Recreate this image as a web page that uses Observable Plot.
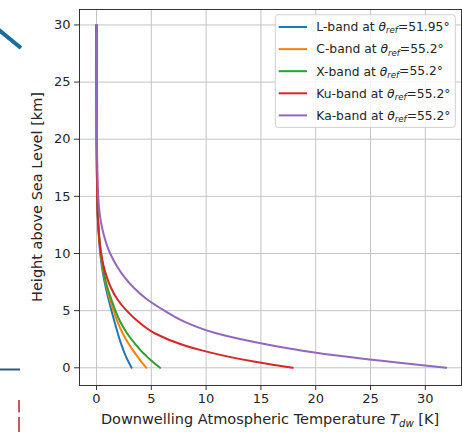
<!DOCTYPE html>
<html><head><meta charset="utf-8">
<script src="https://cdn.jsdelivr.net/npm/d3@7"></script>
<script src="https://cdn.jsdelivr.net/npm/@observablehq/plot@0.6"></script>
<style>
body{margin:0;background:#fff;}
#wrap{position:relative;width:462px;height:432px;overflow:hidden;background:#fff;}
#deco{position:absolute;left:0;top:0;pointer-events:none;}
</style></head>
<body><div id="wrap"></div>
<script>
// heights above sea level [km]
const heights = [0, 0.5, 1, 1.5, 2, 3, 4, 5, 6, 7, 8, 9, 10, 12, 15, 20, 25, 30];
const bandNames = ["L-band", "C-band", "X-band", "Ku-band", "Ka-band"];
const refAngles = ["51.95", "55.2", "55.2", "55.2", "55.2"];
// downwelling atmospheric temperature [K] at each height
const tempL  = [3.2, 2.93, 2.68, 2.47, 2.28, 1.95, 1.65, 1.37, 1.1, 0.85, 0.64, 0.47, 0.34, 0.18, 0.06, 0.015, 0.005, 0];
const tempC  = [4.55, 4.12, 3.72, 3.35, 3.0, 2.4, 1.93, 1.55, 1.22, 0.94, 0.71, 0.52, 0.38, 0.2, 0.07, 0.015, 0.005, 0];
const tempX  = [5.8, 5.15, 4.58, 4.05, 3.6, 2.8, 2.18, 1.72, 1.35, 1.0, 0.74, 0.56, 0.41, 0.21, 0.07, 0.015, 0.005, 0];
const tempKu = [17.9, 14.6, 11.9, 9.7, 7.9, 5.35, 3.85, 2.75, 1.9, 1.32, 0.92, 0.63, 0.42, 0.19, 0.06, 0.015, 0.005, 0];
const tempKa = [31.9, 27.0, 22.5, 18.8, 15.8, 11.0, 8.1, 6.2, 4.6, 3.4, 2.5, 1.8, 1.25, 0.57, 0.16, 0.04, 0.015, 0.005];
const seriesColors = ["#1f77b4", "#ff7f0e", "#2ca02c", "#d62728", "#9467bd"];
const xTicks = [0, 5, 10, 15, 20, 25, 30];
const yTicks = [0, 5, 10, 15, 20, 25, 30];

const temps = [tempL, tempC, tempX, tempKu, tempKa];
const rows = [];
bandNames.forEach((b, i) => heights.forEach((h, j) => rows.push({band: b, h: h, T: temps[i][j]})));

const textColor = "#262626";
const chart = Plot.plot({
  width: 462, height: 432,
  marginLeft: 79, marginRight: 1, marginTop: 9, marginBottom: 47,
  style: {fontFamily: "DejaVu Sans", fontSize: "13px", color: textColor, background: "#fff", overflow: "visible"},
  x: {domain: [-1.55, 33.3]},
  y: {domain: [-1.55, 31.35]},
  color: {domain: bandNames, range: seriesColors},
  marks: [
    Plot.gridX(xTicks, {stroke: "#c4c4c4", strokeOpacity: 1, strokeWidth: 1}),
    Plot.gridY(yTicks, {stroke: "#c4c4c4", strokeOpacity: 1, strokeWidth: 1}),
    Plot.axisX(xTicks, {tickSize: 5, tickPadding: 3, label: null, stroke: "#333", fontSize: 13}),
    Plot.axisY(yTicks, {tickSize: 5, tickPadding: 4, label: null, stroke: "#333", fontSize: 13}),
    Plot.line(rows, {x: "T", y: "h", z: "band", stroke: "band", strokeWidth: 2, curve: "monotone-y"}),
    Plot.frame({stroke: "#333", strokeWidth: 1})
  ]
});
document.getElementById("wrap").appendChild(chart);

const svg = d3.select(chart);
const xr = chart.scale("x").range, yr = chart.scale("y").range;
const xMid = (xr[0] + xr[1]) / 2, yMid = (yr[0] + yr[1]) / 2;

// x axis label
const xl = svg.append("text").attr("x", xMid).attr("y", 424).attr("text-anchor", "middle")
  .attr("font-size", 14.5).attr("fill", textColor);
xl.append("tspan").text("Downwelling Atmospheric Temperature ");
xl.append("tspan").attr("font-style", "italic").text("T");
xl.append("tspan").attr("font-style", "italic").attr("font-size", "0.7em").attr("dy", "0.25em").text("dw");
xl.append("tspan").attr("dy", "-0.18em").text(" [K]");

// y axis label
svg.append("text").attr("transform", `translate(42,${yMid}) rotate(-90)`).attr("text-anchor", "middle")
  .attr("font-size", 14.5).attr("fill", textColor).text("Height above Sea Level [km]");

// legend
const lg = svg.append("g").attr("text-anchor", "start");
const lgX = xr[1] - 185.7, lgY = yr[1] + 5.7;
lg.append("rect").attr("x", lgX).attr("y", lgY).attr("width", 180).attr("height", 112.7)
  .attr("rx", 3).attr("fill", "#fff").attr("fill-opacity", 0.85).attr("stroke", "#d0d0d0");
bandNames.forEach((b, i) => {
  const cy = lgY + 12.3 + i * 22.1;
  lg.append("line").attr("x1", lgX + 3.4).attr("x2", lgX + 31.7).attr("y1", cy).attr("y2", cy)
    .attr("stroke", seriesColors[i]).attr("stroke-width", 2);
  const t = lg.append("text").attr("x", lgX + 41).attr("y", cy + 4.3).attr("text-anchor", "start")
    .attr("font-size", 12.3).attr("fill", textColor);
  t.append("tspan").text(b + " at ");
  t.append("tspan").attr("font-style", "italic").text("θ");
  t.append("tspan").attr("font-style", "italic").attr("font-size", "0.7em").attr("dy", "0.25em").text("ref");
  t.append("tspan").attr("dy", "-0.18em").text("=" + refAngles[i] + "°");
});

// cropping remnants visible in the reference picture (decoration only)
const deco = d3.select("#wrap").append("svg").attr("id", "deco").attr("width", 462).attr("height", 432);
deco.append("line").attr("x1", -3).attr("y1", 28.5).attr("x2", 21).attr("y2", 48).attr("stroke", "#1a6d98").attr("stroke-width", 4);
deco.append("line").attr("x1", 0).attr("y1", 369.5).attr("x2", 20).attr("y2", 369.5).attr("stroke", "#2a5f78").attr("stroke-width", 2);
deco.append("line").attr("x1", 19).attr("y1", 400).attr("x2", 19).attr("y2", 412.5).attr("stroke", "#b5303f").attr("stroke-width", 1.6);
deco.append("line").attr("x1", 19).attr("y1", 417).attr("x2", 19).attr("y2", 432).attr("stroke", "#b5303f").attr("stroke-width", 1.6);
</script>
</body></html>
